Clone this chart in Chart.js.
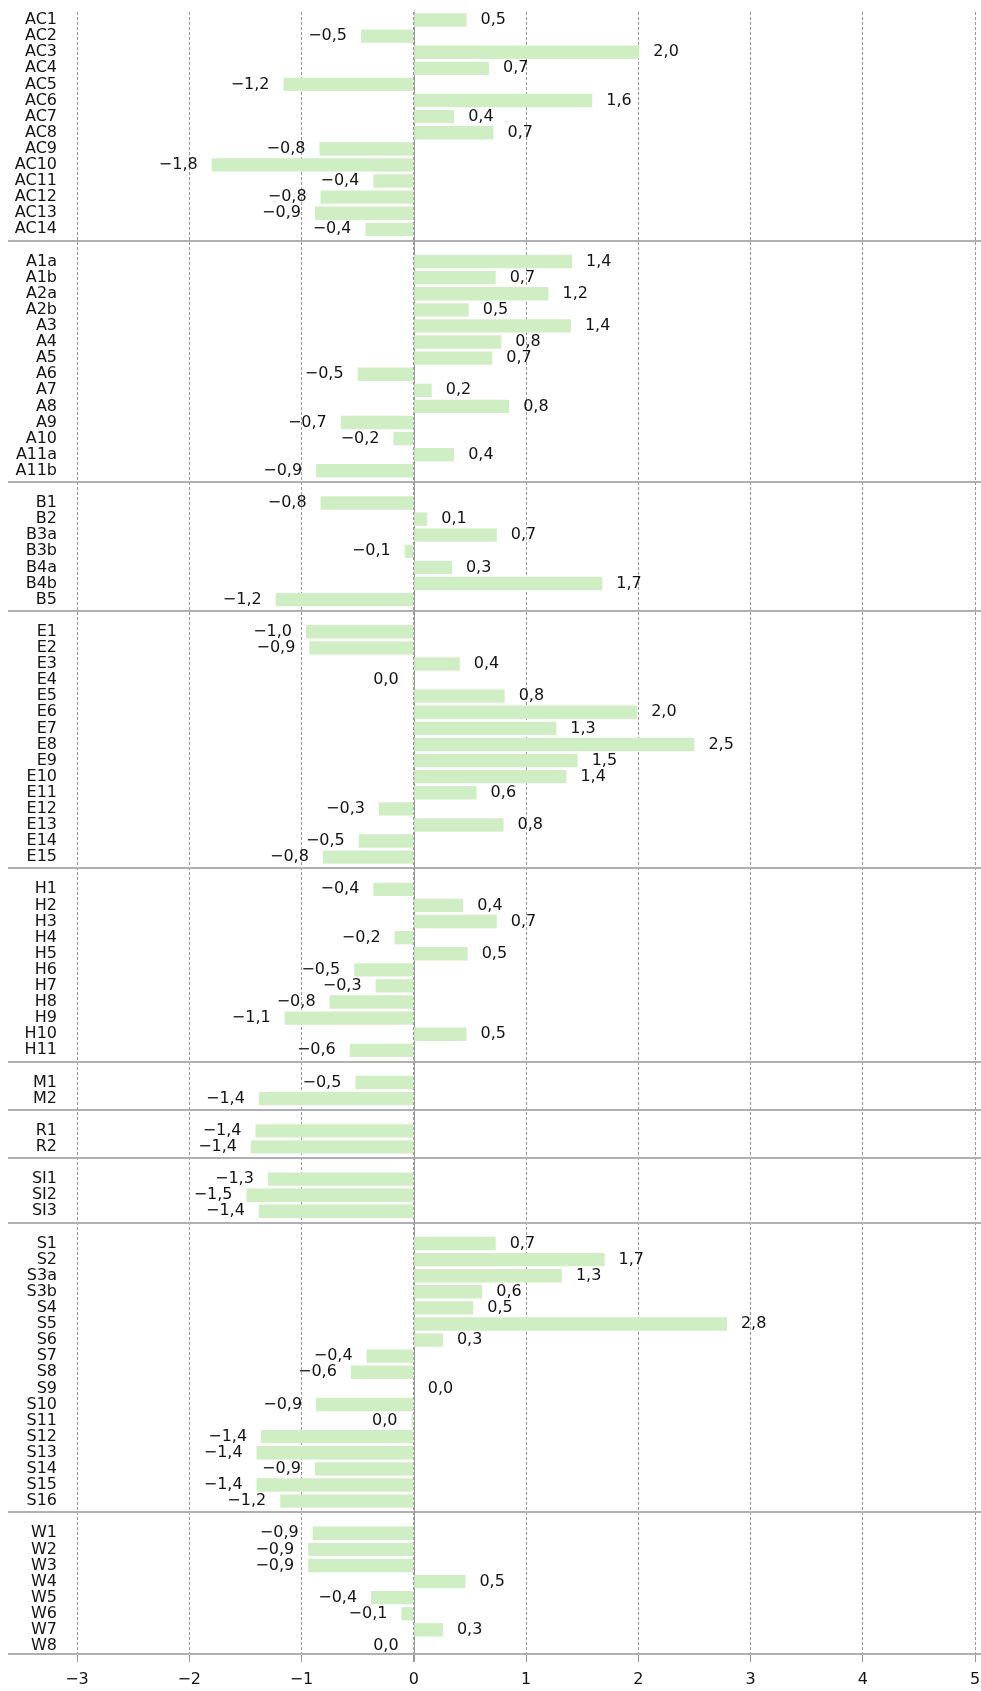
<!DOCTYPE html>
<html>
<head>
<meta charset="utf-8">
<script src="https://cdn.jsdelivr.net/npm/chart.js@4.4.0/dist/chart.umd.min.js"></script>
<style>
  html, body { margin: 0; padding: 0; background: #fff; }
</style>
</head>
<body>
<canvas id="chart" width="981" height="1691"></canvas>
<script>
// categories + values, one pair per group (groups are split by a gap row + line)
var acCats = ['AC1', 'AC2', 'AC3', 'AC4', 'AC5', 'AC6', 'AC7', 'AC8', 'AC9', 'AC10', 'AC11', 'AC12', 'AC13', 'AC14'];
var acVals = [0.47, -0.47, 2.01, 0.67, -1.16, 1.59, 0.36, 0.71, -0.84, -1.80, -0.36, -0.83, -0.88, -0.43];

var aCats = ['A1a', 'A1b', 'A2a', 'A2b', 'A3', 'A4', 'A5', 'A6', 'A7', 'A8', 'A9', 'A10', 'A11a', 'A11b'];
var aVals = [1.41, 0.73, 1.20, 0.49, 1.40, 0.78, 0.70, -0.50, 0.16, 0.85, -0.65, -0.18, 0.36, -0.87];

var bCats = ['B1', 'B2', 'B3a', 'B3b', 'B4a', 'B4b', 'B5'];
var bVals = [-0.83, 0.12, 0.74, -0.08, 0.34, 1.68, -1.23];

var eCats = ['E1', 'E2', 'E3', 'E4', 'E5', 'E6', 'E7', 'E8', 'E9', 'E10', 'E11', 'E12', 'E13', 'E14', 'E15'];
var eVals = [-0.96, -0.93, 0.41, -0.01, 0.81, 1.99, 1.27, 2.50, 1.46, 1.36, 0.56, -0.31, 0.80, -0.49, -0.81];

var hCats = ['H1', 'H2', 'H3', 'H4', 'H5', 'H6', 'H7', 'H8', 'H9', 'H10', 'H11'];
var hVals = [-0.36, 0.44, 0.74, -0.17, 0.48, -0.53, -0.34, -0.75, -1.15, 0.47, -0.57];

var mCats = ['M1', 'M2'];
var mVals = [-0.52, -1.38];

var rCats = ['R1', 'R2'];
var rVals = [-1.41, -1.45];

var siCats = ['SI1', 'SI2', 'SI3'];
var siVals = [-1.30, -1.49, -1.38];

var sCats = ['S1', 'S2', 'S3a', 'S3b', 'S4', 'S5', 'S6', 'S7', 'S8', 'S9', 'S10', 'S11', 'S12', 'S13', 'S14', 'S15', 'S16'];
var sVals = [0.73, 1.70, 1.32, 0.61, 0.53, 2.79, 0.26, -0.42, -0.56, 0, -0.87, -0.02, -1.36, -1.40, -0.88, -1.40, -1.19];

var wCats = ['W1', 'W2', 'W3', 'W4', 'W5', 'W6', 'W7', 'W8'];
var wVals = [-0.90, -0.94, -0.94, 0.46, -0.38, -0.11, 0.26, -0.01];

var xTicks = [-3, -2, -1, 0, 1, 2, 3, 4, 5];

var groups = [
  [acCats, acVals], [aCats, aVals], [bCats, bVals], [eCats, eVals], [hCats, hVals],
  [mCats, mVals], [rCats, rVals], [siCats, siVals], [sCats, sVals], [wCats, wVals]
];

var FONT = 'DejaVu Sans';
var TEXT = '#141414';

// flatten, with an empty row between groups
var labels = [], values = [], gapRows = [];
groups.forEach(function (g, i) {
  if (i > 0) {
    gapRows.push(labels.length);
    labels.push('');
    values.push(null);
  }
  labels.push.apply(labels, g[0]);
  values.push.apply(values, g[1]);
});

function fmt(v) {
  var s = Math.abs(v).toFixed(1).replace('.', ',');
  return (v <= -0.05 ? '\u2212' : '') + s;
}

// separators, zero line and bottom line
var linesPlugin = {
  id: 'lines',
  beforeDatasetsDraw: function (chart) {
    var ctx = chart.ctx, area = chart.chartArea;
    var ys = chart.scales.y, xs = chart.scales.x;
    var row = ys.getPixelForValue(1) - ys.getPixelForValue(0);
    ctx.save();
    ctx.strokeStyle = '#b0b0b0';
    ctx.lineWidth = 2;
    gapRows.forEach(function (r) {
      var y = Math.round(ys.getPixelForValue(r) - 0.3 * row);
      ctx.beginPath();
      ctx.moveTo(8, y);
      ctx.lineTo(chart.width, y);
      ctx.stroke();
    });
    ctx.beginPath();
    ctx.moveTo(8, area.bottom);
    ctx.lineTo(chart.width, area.bottom);
    ctx.stroke();
    // zero line solid
    var x0 = Math.round(xs.getPixelForValue(0)) + 0.5;
    ctx.strokeStyle = '#999';
    ctx.lineWidth = 1;
    ctx.beginPath();
    ctx.moveTo(x0, area.top);
    ctx.lineTo(x0, area.bottom + 8);
    ctx.stroke();
    ctx.restore();
  }
};

// value labels next to bar ends
var valueLabels = {
  id: 'valueLabels',
  afterDatasetsDraw: function (chart) {
    var ctx = chart.ctx;
    var meta = chart.getDatasetMeta(0);
    ctx.save();
    ctx.font = '16px "' + FONT + '"';
    ctx.fillStyle = TEXT;
    ctx.textBaseline = 'middle';
    meta.data.forEach(function (bar, i) {
      var v = values[i];
      if (v === null) return;
      if (v < 0) {
        ctx.textAlign = 'right';
        ctx.fillText(fmt(v), Math.min(bar.x, bar.base) - 14, bar.y);
      } else {
        ctx.textAlign = 'left';
        ctx.fillText(fmt(v), Math.max(bar.x, bar.base) + 14, bar.y);
      }
    });
    ctx.restore();
  }
};

new Chart(document.getElementById('chart'), {
  type: 'bar',
  data: {
    labels: labels,
    datasets: [{
      data: values,
      backgroundColor: '#d0eec4',
      borderWidth: 0,
      barPercentage: 0.83,
      categoryPercentage: 1.0
    }]
  },
  options: {
    indexAxis: 'y',
    responsive: false,
    animation: false,
    layout: { padding: { top: 12, right: 6, bottom: 0, left: 0 } },
    plugins: {
      legend: { display: false },
      tooltip: { enabled: false }
    },
    scales: {
      x: {
        min: xTicks[0],
        max: xTicks[xTicks.length - 1],
        ticks: {
          stepSize: 1,
          color: TEXT,
          padding: 8,
          font: { family: FONT, size: 16 },
          callback: function (v) { return v < 0 ? '\u2212' + Math.abs(v) : String(v); }
        },
        grid: { color: '#999', lineWidth: 1, tickLength: 8 },
        border: { display: false, dash: [3, 2] },
        afterFit: function (s) { s.height = 37; s.paddingLeft = 0; s.paddingRight = 0; }
      },
      y: {
        ticks: {
          autoSkip: false,
          color: TEXT,
          padding: 20,
          font: { family: FONT, size: 16 }
        },
        grid: { display: false, drawTicks: false },
        border: { display: false },
        afterFit: function (s) { s.width = 77; s.paddingTop = 0; s.paddingBottom = 0; }
      }
    }
  },
  plugins: [linesPlugin, valueLabels]
});
</script>
</body>
</html>
